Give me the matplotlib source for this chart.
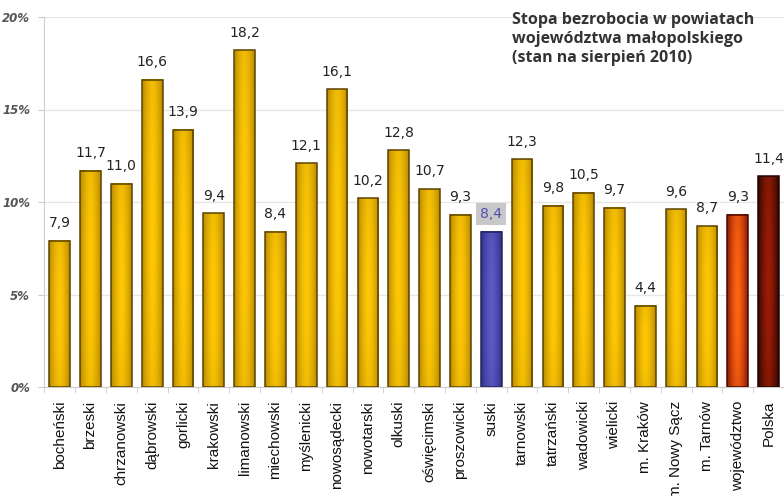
import numpy as np
import matplotlib
matplotlib.use("Agg")
import matplotlib.pyplot as plt
from matplotlib.colors import LinearSegmentedColormap
from matplotlib.patches import Rectangle

# dane: stopa bezrobocia (%) sierpien 2010
powiaty = ["bocheński", "brzeski", "chrzanowski", "dąbrowski", "gorlicki",
           "krakowski", "limanowski", "miechowski", "myślenicki", "nowosądecki",
           "nowotarski", "olkuski", "oświęcimski", "proszowicki", "suski",
           "tarnowski", "tatrzański", "wadowicki", "wielicki", "m. Kraków",
           "m. Nowy Sącz", "m. Tarnów", "województwo", "Polska"]
stopa = [7.9, 11.7, 11.0, 16.6, 13.9, 9.4, 18.2, 8.4, 12.1, 16.1,
         10.2, 12.8, 10.7, 9.3, 8.4, 12.3, 9.8, 10.5, 9.7, 4.4,
         9.6, 8.7, 9.3, 11.4]
y_ticks = [0, 5, 10, 15, 20]
title = "Stopa bezrobocia w powiatach\nwojewództwa małopolskiego\n(stan na sierpień 2010)"

# kolory gradientow (brzeg, srodek)
gold = LinearSegmentedColormap.from_list("gold", ["#b98a00", "#ffc805"])
blue = LinearSegmentedColormap.from_list("blue", ["#30308a", "#5c5cc4"])
red = LinearSegmentedColormap.from_list("red", ["#8a1805", "#ff6412"])
dark = LinearSegmentedColormap.from_list("dark", ["#300600", "#9a1c06"])


def bar_cmap(name):
    if name == "suski":
        return blue, "#23235e"
    if name == "województwo":
        return red, "#4a0a00"
    if name == "Polska":
        return dark, "#200400"
    return gold, "#5a4200"


fig = plt.figure(figsize=(7.84, 4.96), dpi=100)
ax = fig.add_axes([44 / 784, 109 / 496, 740 / 784, 370 / 496])

width = 0.67
u = np.linspace(0, 1, 64)
v = np.linspace(0, 1, 64)
U, V = np.meshgrid(u, v)
shade = (1 - np.abs(2 * U - 1) ** 1.6) * (0.8 + 0.2 * (1 - np.abs(2 * V - 1) ** 2))

for i, (name, val) in enumerate(zip(powiaty, stopa)):
    cmap, edge = bar_cmap(name)
    x0 = i - width / 2
    ax.imshow(shade, cmap=cmap, vmin=0, vmax=1, aspect="auto",
              extent=(x0, x0 + width, 0, val), origin="lower", zorder=2,
              interpolation="bilinear")
    ax.add_patch(Rectangle((x0, 0), width, val, facecolor="none",
                           edgecolor=edge, linewidth=1.1, zorder=3))
    label = f"{val:.1f}".replace(".", ",")
    if name == "suski":
        ax.text(i, val + 0.95, label, ha="center", va="center", fontsize=10,
                color="#5050b0", zorder=4,
                bbox=dict(boxstyle="square,pad=0.3", facecolor="#c8c8c8",
                          edgecolor="none"))
    else:
        ax.text(i, val + 0.95, label, ha="center", va="center", fontsize=10,
                color="#222222", zorder=4)

ax.set_xlim(-0.51, 23.09)
ax.set_ylim(0, 20)

ax.set_yticks(y_ticks)
ax.set_yticklabels([f"{t}%" for t in y_ticks], fontsize=8.5, style="italic",
                   fontweight="bold", color="#555555")
ax.yaxis.grid(True, color="#e6e6e6", linewidth=1)
ax.set_axisbelow(True)

ax.set_xticks(range(len(powiaty)))
ax.set_xticklabels(powiaty, rotation=90, fontsize=11, family="Liberation Sans",
                   color="#111111")
ax.tick_params(axis="x", length=0, pad=10)
ax.set_xticks(np.arange(-0.5, len(powiaty), 1), minor=True)
ax.tick_params(axis="x", which="minor", length=4, color="#cccccc")
ax.tick_params(axis="y", length=4, color="#cccccc", pad=6)

for side in ["top", "right"]:
    ax.spines[side].set_visible(False)
ax.spines["left"].set_color("#cccccc")
ax.spines["bottom"].set_color("#cccccc")

fig.text(512 / 784, 1 - 12 / 496, title, ha="left", va="top", fontsize=11.5,
         fontweight="bold", family="Open Sans", color="#333333",
         linespacing=1.25)

fig.savefig("out.png", dpi=100)
